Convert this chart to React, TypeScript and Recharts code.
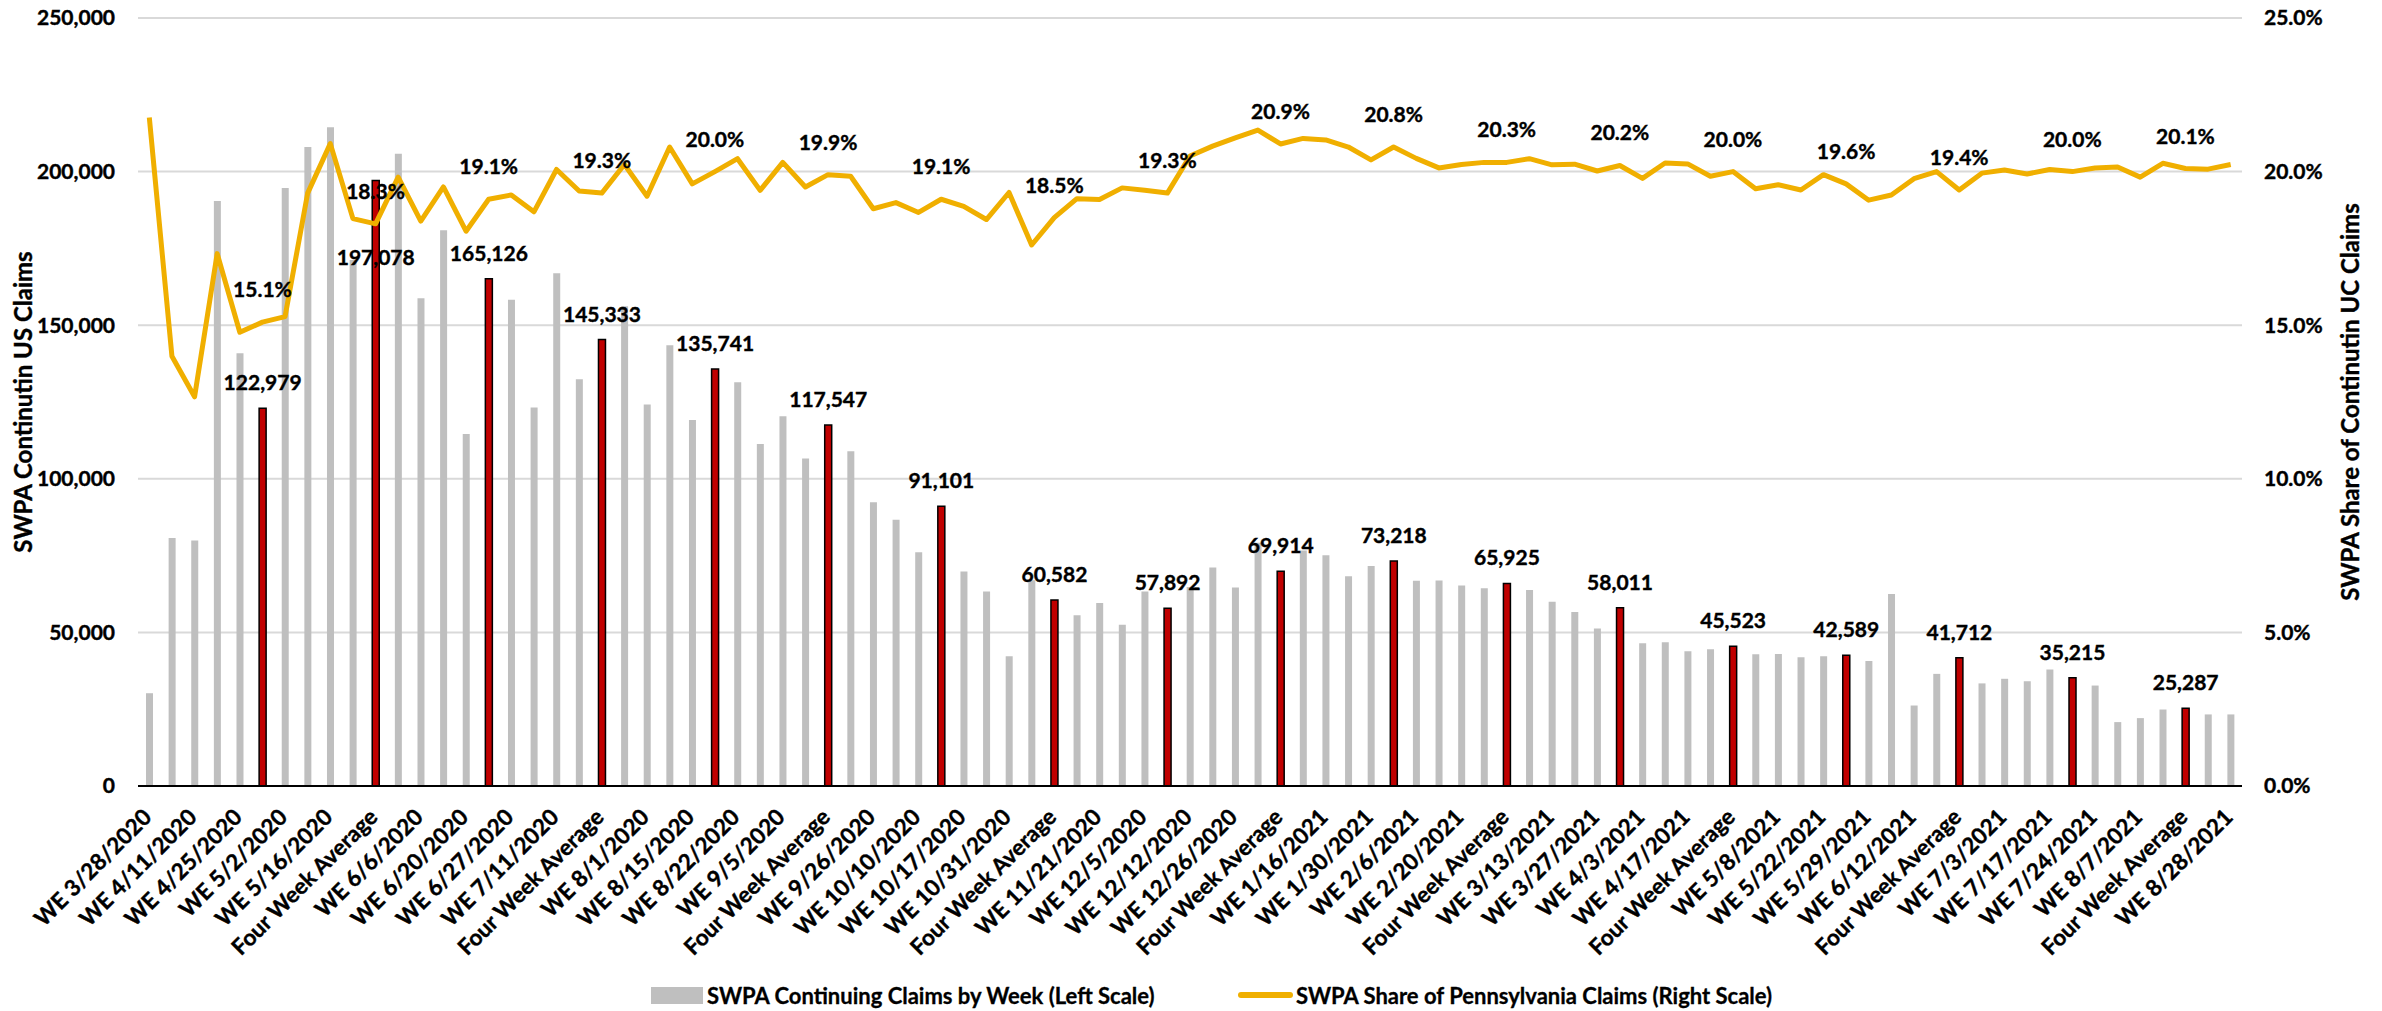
import React from 'react';
import {
  ComposedChart,
  Bar,
  Line,
  Cell,
  XAxis,
  YAxis,
  CartesianGrid,
  LabelList,
} from 'recharts';

const AVG = 'Four Week Average';

// weekly categories, with a four week average after every four weeks
const weeks = [
  'WE 3/28/2020', 'WE 4/4/2020', 'WE 4/11/2020', 'WE 4/18/2020', 'WE 4/25/2020', AVG,
  'WE 5/2/2020', 'WE 5/9/2020', 'WE 5/16/2020', 'WE 5/23/2020', AVG,
  'WE 5/30/2020', 'WE 6/6/2020', 'WE 6/13/2020', 'WE 6/20/2020', AVG,
  'WE 6/27/2020', 'WE 7/4/2020', 'WE 7/11/2020', 'WE 7/18/2020', AVG,
  'WE 7/25/2020', 'WE 8/1/2020', 'WE 8/8/2020', 'WE 8/15/2020', AVG,
  'WE 8/22/2020', 'WE 8/29/2020', 'WE 9/5/2020', 'WE 9/12/2020', AVG,
  'WE 9/19/2020', 'WE 9/26/2020', 'WE 10/3/2020', 'WE 10/10/2020', AVG,
  'WE 10/17/2020', 'WE 10/24/2020', 'WE 10/31/2020', 'WE 11/7/2020', AVG,
  'WE 11/14/2020', 'WE 11/21/2020', 'WE 11/28/2020', 'WE 12/5/2020', AVG,
  'WE 12/12/2020', 'WE 12/19/2020', 'WE 12/26/2020', 'WE 1/2/2021', AVG,
  'WE 1/9/2021', 'WE 1/16/2021', 'WE 1/23/2021', 'WE 1/30/2021', AVG,
  'WE 2/6/2021', 'WE 2/13/2021', 'WE 2/20/2021', 'WE 2/27/2021', AVG,
  'WE 3/6/2021', 'WE 3/13/2021', 'WE 3/20/2021', 'WE 3/27/2021', AVG,
  'WE 4/3/2021', 'WE 4/10/2021', 'WE 4/17/2021', 'WE 4/24/2021', AVG,
  'WE 5/1/2021', 'WE 5/8/2021', 'WE 5/15/2021', 'WE 5/22/2021', AVG,
  'WE 5/29/2021', 'WE 6/5/2021', 'WE 6/12/2021', 'WE 6/19/2021', AVG,
  'WE 6/26/2021', 'WE 7/3/2021', 'WE 7/10/2021', 'WE 7/17/2021', AVG,
  'WE 7/24/2021', 'WE 7/31/2021', 'WE 8/7/2021', 'WE 8/14/2021', AVG,
  'WE 8/21/2021', 'WE 8/28/2021',
];

// SWPA continuing claims (left scale)
const claims = [
  30200, 80700, 79900, 190400, 140900, 122979,
  194700, 208000, 214400, 171200, 197078,
  205800, 158800, 180900, 114600, 165126,
  158300, 123200, 166900, 132400, 145333,
  156200, 124200, 143500, 119100, 135741,
  131400, 111300, 120400, 106600, 117547,
  109000, 92400, 86700, 76100, 91101,
  69800, 63300, 42200, 67000, 60582,
  55600, 59600, 52500, 63300, 57892,
  64800, 71100, 64600, 79200, 69914,
  76700, 75100, 68300, 71600, 73218,
  66800, 66900, 65300, 64400, 65925,
  63800, 60000, 56600, 51300, 58011,
  46500, 46800, 43900, 44500, 45523,
  42900, 43000, 41900, 42200, 42589,
  40700, 62500, 26200, 36500, 41712,
  33400, 34900, 34100, 37900, 35215,
  32700, 20800, 22100, 24900, 25287,
  23300, 23300,
];

// SWPA share of Pennsylvania claims, percent (right scale)
const share = [
  21.76, 13.99, 12.67, 17.33, 14.77, 15.1,
  15.28, 19.3, 20.91, 18.47, 18.3,
  19.82, 18.39, 19.5, 18.06, 19.1,
  19.24, 18.69, 20.07, 19.37, 19.3,
  20.23, 19.2, 20.8, 19.6, 20.0,
  20.42, 19.39, 20.3, 19.5, 19.9,
  19.85, 18.79, 18.99, 18.67, 19.1,
  18.87, 18.44, 19.32, 17.61, 18.5,
  19.12, 19.09, 19.47, 19.39, 19.3,
  20.51, 20.83, 21.1, 21.35, 20.9,
  21.08, 21.03, 20.8, 20.38, 20.8,
  20.43, 20.12, 20.23, 20.3, 20.3,
  20.42, 20.22, 20.24, 20.02, 20.2,
  19.78, 20.28, 20.25, 19.85, 20.0,
  19.44, 19.57, 19.4, 19.9, 19.6,
  19.07, 19.24, 19.77, 20.0, 19.4,
  19.95, 20.05, 19.92, 20.07, 20.0,
  20.12, 20.15, 19.82, 20.27, 20.1,
  20.08, 20.23,
];

const leftTicks = [0, 50000, 100000, 150000, 200000, 250000];
const rightTicks = [0, 5, 10, 15, 20, 25];

const FONT = 'Lato, "Open Sans", sans-serif';
const GRAY = '#BFBFBF';
const RED = '#C00000';
const GOLD = '#F0AF00';

const data = weeks.map((week, i) => {
  const isAvg = week === AVG;
  return {
    week,
    claims: claims[i],
    share: share[i],
    isAvg,
    claimsLabel: isAvg ? claims[i] : undefined,
    shareLabel: isAvg ? share[i] : undefined,
  };
});

// shared look for all svg text: bold, slightly heavier stroke
const textProps = {
  fontFamily: FONT,
  fontWeight: 700,
  fill: '#000',
  stroke: '#000',
  strokeWidth: 0.4,
};

const WeekTick = ({ x, y, payload }: any) => (
  <g transform={`translate(${x - 2},${y + 27}) rotate(-45)`}>
    <text textAnchor="end" dy="0.35em" fontSize={22.5} {...textProps}>
      {payload.value}
    </text>
  </g>
);

const ClaimsLabel = ({ x, y, width, value }: any) => {
  if (value == null) return null;
  // labels of very tall bars would sit on the share line, so drop them below it
  const ty = value > 180000 ? y + 84 : y - 18;
  return (
    <text x={x + width / 2} y={ty} textAnchor="middle" fontSize={21} {...textProps}>
      {Number(value).toLocaleString('en-US')}
    </text>
  );
};

const ShareLabel = ({ x, y, value }: any) => {
  if (value == null) return null;
  return (
    <text x={x} y={y - 25} textAnchor="middle" fontSize={21} {...textProps}>
      {`${Number(value).toFixed(1)}%`}
    </text>
  );
};

const tickStyle = { ...textProps, fontSize: 21 };
const titleStyle = { ...textProps, fontSize: 24, textAnchor: 'middle' as const };

const legendStyle: React.CSSProperties = {
  position: 'absolute',
  top: 983,
  height: 24,
  display: 'flex',
  alignItems: 'center',
  fontFamily: FONT,
  fontWeight: 700,
  fontSize: 22,
  color: '#000',
  whiteSpace: 'nowrap',
  WebkitTextStroke: '0.3px #000',
};

export default function App() {
  return (
    <div style={{ position: 'absolute', left: 0, top: 0, width: 2382, height: 1011, background: '#fff' }}>
      <ComposedChart
        width={2382}
        height={1011}
        data={data}
        margin={{ top: 18, right: 0, bottom: 0, left: 0 }}
        barCategoryGap={0}
      >
        <CartesianGrid vertical={false} stroke="#D9D9D9" strokeWidth={2} yAxisId="left" />
        <XAxis
          dataKey="week"
          interval={1}
          height={225}
          tickLine={false}
          tickSize={0}
          tickMargin={0}
          axisLine={{ stroke: '#000', strokeWidth: 2 }}
          tick={<WeekTick />}
        />
        <YAxis
          yAxisId="left"
          width={138}
          domain={[0, 250000]}
          ticks={leftTicks}
          tickFormatter={(v: number) => v.toLocaleString('en-US')}
          axisLine={false}
          tickLine={false}
          tickSize={0}
          tickMargin={23}
          tick={tickStyle}
          label={{
            value: 'SWPA Continutin US Claims',
            angle: -90,
            position: 'insideLeft',
            offset: 23,
            style: titleStyle,
          }}
        />
        <YAxis
          yAxisId="right"
          orientation="right"
          width={140}
          domain={[0, 25]}
          ticks={rightTicks}
          tickFormatter={(v: number) => `${v.toFixed(1)}%`}
          axisLine={false}
          tickLine={false}
          tickSize={0}
          tickMargin={22}
          tick={{ ...tickStyle, textAnchor: 'start' }}
          label={{
            value: 'SWPA Share of Continutin UC Claims',
            angle: -90,
            position: 'insideRight',
            offset: 32,
            style: titleStyle,
          }}
        />
        <Bar yAxisId="left" dataKey="claims" barSize={7} fill={GRAY} isAnimationActive={false}>
          {data.map((d, i) => (
            <Cell
              key={`c-${i}`}
              fill={d.isAvg ? RED : GRAY}
              stroke={d.isAvg ? '#000' : 'none'}
              strokeWidth={d.isAvg ? 1.5 : 0}
            />
          ))}
          <LabelList dataKey="claimsLabel" content={<ClaimsLabel />} />
        </Bar>
        <Line
          yAxisId="right"
          type="linear"
          dataKey="share"
          stroke={GOLD}
          strokeWidth={5}
          strokeLinejoin="round"
          dot={false}
          activeDot={false}
          isAnimationActive={false}
        >
          <LabelList dataKey="shareLabel" content={<ShareLabel />} />
        </Line>
      </ComposedChart>

      {/* legend */}
      <div style={{ ...legendStyle, left: 651 }}>
        <span style={{ display: 'inline-block', width: 52, height: 17, background: GRAY, marginRight: 4 }} />
        <span>SWPA Continuing Claims by Week (Left Scale)</span>
      </div>
      <div style={{ ...legendStyle, left: 1238 }}>
        <span style={{ display: 'inline-block', width: 55, height: 6, borderRadius: 3, background: GOLD, marginRight: 3 }} />
        <span>SWPA Share of Pennsylvania Claims (Right Scale)</span>
      </div>
    </div>
  );
}
